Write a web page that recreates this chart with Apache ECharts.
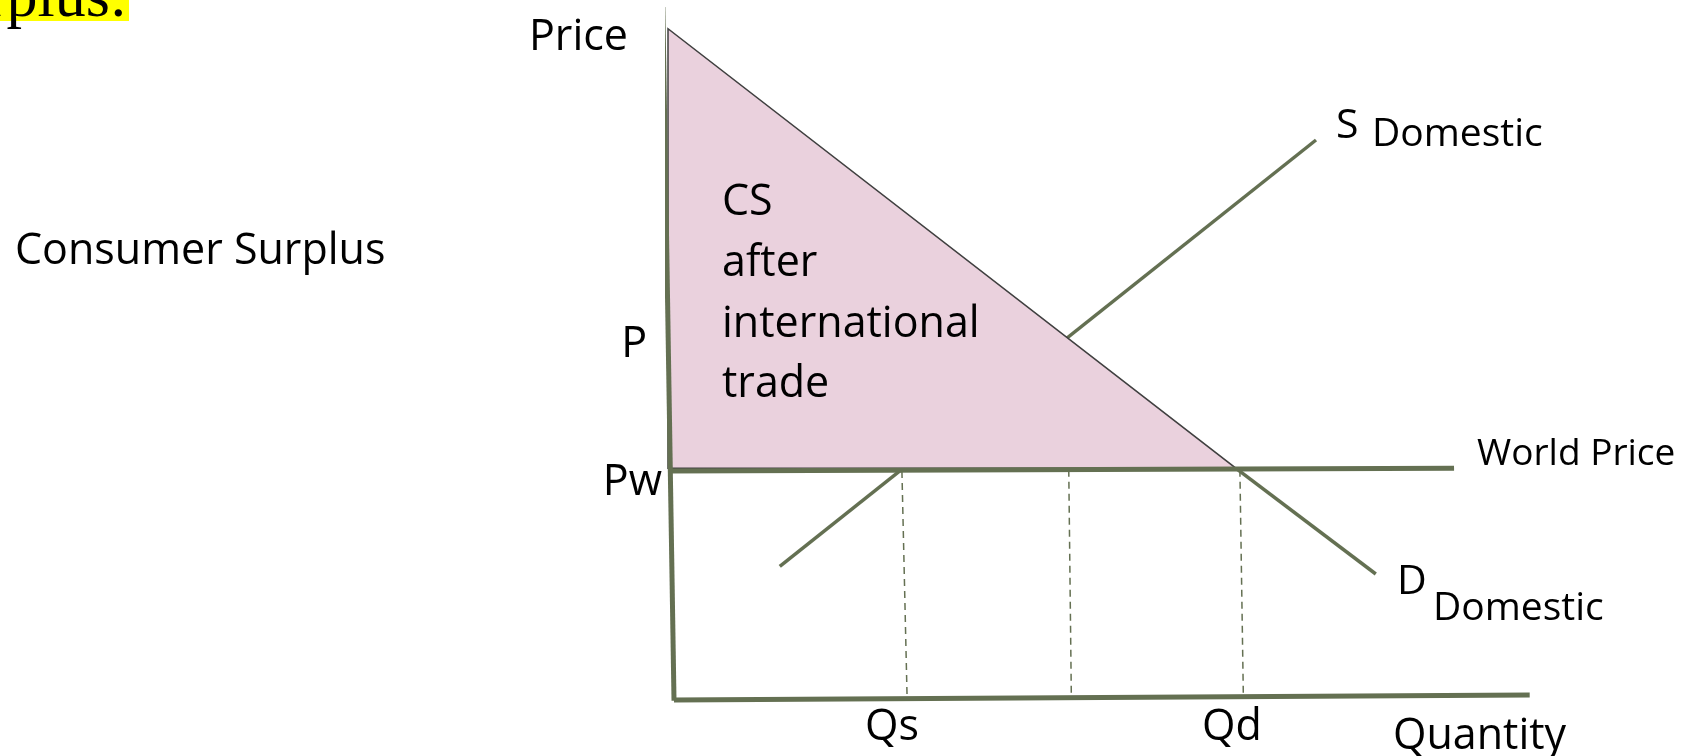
<!DOCTYPE html>
<html>
<head>
<meta charset="utf-8">
<title>Consumer Surplus</title>
<script src="https://cdn.jsdelivr.net/npm/echarts@6/dist/echarts.min.js"></script>
<style>
  html, body { margin: 0; padding: 0; background: #fff; }
  #J_Chart { width: 1683px; height: 756px; }
</style>
</head>
<body>
<div id="J_Chart"></div>
<script>
'use strict';

// [quantity, price] on a 0..100 scale for both axes
const priceAxisLine = [[-0.6, 99], [0.7, -0.1]];
const quantityAxisLine = [[0.7, 0], [100.2, 0.7]];
const csArea = [[0, 95.9], [0, 33.1], [66.05, 33.1]];
const worldPrice = [[0.2, 32.7], [91.4, 33.1]];
const supply = [[13.0, 19.1], [75.35, 80.0]];
const demandBelow = [[66.05, 33.1], [82.3, 18.0]];
const qsGuide = [[27.2, 32.7], [27.8, 0.4]];
const midGuide = [[46.6, 32.9], [46.9, 0.4]];
const qdGuide = [[66.5, 32.9], [66.9, 0.6]];

// [text, quantity, price]
const axisLeftLabels = [['Price', -4.65, 94.6], ['P', -2.44, 50.8], ['Pw', -0.7, 31.0]];
const bodyLabels = [
  ['CS', 6.28, 71.0], ['after', 6.28, 62.3], ['international', 6.28, 53.6], ['trade', 6.28, 45.0],
  ['Qs', 22.9, -4.0], ['Qd', 62.1, -4.0], ['Quantity', 84.3, -5.2],
];
const curveLabels = [['S', 77.67, 82.0], ['D', 84.77, 16.8]];
const subLabels = [['Domestic', 81.86, 80.7], ['Domestic', 88.95, 13.0]];
const worldPriceLabel = [['World Price', 94.07, 35.1]];

const GREEN = '#647052';
const FONT = '"Open Sans", "Noto Sans", sans-serif';

const chartDom = document.getElementById('J_Chart');
const myChart = echarts.init(chartDom, null, { renderer: 'canvas' });

function segment(data, width, z, dashed) {
  return {
    type: 'line',
    data,
    symbol: 'none',
    clip: false,
    silent: true,
    z,
    lineStyle: {
      color: GREEN,
      width,
      type: dashed ? [7, 5] : 'solid',
      cap: 'butt',
    },
  };
}

function textSeries(items, size, align) {
  return {
    type: 'scatter',
    symbolSize: 0,
    clip: false,
    silent: true,
    z: 5,
    itemStyle: { opacity: 1 },
    data: items.map((d) => ({ name: d[0], value: [d[1], d[2]] })),
    label: {
      show: true,
      position: [0, 0],
      formatter: '{b}',
      align,
      verticalAlign: 'middle',
      color: '#000',
      opacity: 1,
      fontFamily: FONT,
      fontSize: size,
    },
  };
}

const option = {
  animation: false,
  backgroundColor: '#fff',
  grid: { left: 668, right: 155, top: 0, bottom: 56 },
  xAxis: { type: 'value', min: 0, max: 100, show: false },
  yAxis: { type: 'value', min: 0, max: 100, show: false },
  graphic: [
    {
      type: 'rect',
      shape: { x: 0, y: 0, width: 129, height: 21 },
      style: { fill: '#FFFF00' },
      z: 0,
    },
    {
      type: 'text',
      x: 127,
      y: 31,
      style: {
        text: 'rplus:',
        fill: '#000',
        font: '62px "Liberation Serif", serif',
        align: 'right',
        verticalAlign: 'bottom',
      },
      z: 1,
    },
    {
      type: 'text',
      x: 15,
      y: 252,
      style: {
        text: 'Consumer Surplus',
        fill: '#000',
        font: '43px ' + FONT,
        verticalAlign: 'middle',
      },
    },
  ],
  series: [
    segment(supply, 3.5, 1),
    {
      type: 'custom',
      silent: true,
      z: 2,
      data: [0],
      renderItem: (params, api) => {
        const points = csArea.map((d) => api.coord(d));
        return {
          type: 'polygon',
          shape: { points },
          style: { fill: '#EAD1DD', stroke: '#404040', lineWidth: 1.5 },
        };
      },
    },
    segment(worldPrice, 5, 3),
    segment(demandBelow, 3.5, 3),
    segment(qsGuide, 1.5, 3, true),
    segment(midGuide, 1.5, 3, true),
    segment(qdGuide, 1.5, 3, true),
    segment(priceAxisLine, 5, 4),
    segment(quantityAxisLine, 5, 4),
    textSeries(axisLeftLabels, 43, 'right'),
    textSeries(bodyLabels, 43, 'left'),
    textSeries(curveLabels, 41, 'left'),
    textSeries(subLabels, 39, 'left'),
    textSeries(worldPriceLabel, 37, 'left'),
  ],
};

myChart.setOption(option);
</script>
</body>
</html>
